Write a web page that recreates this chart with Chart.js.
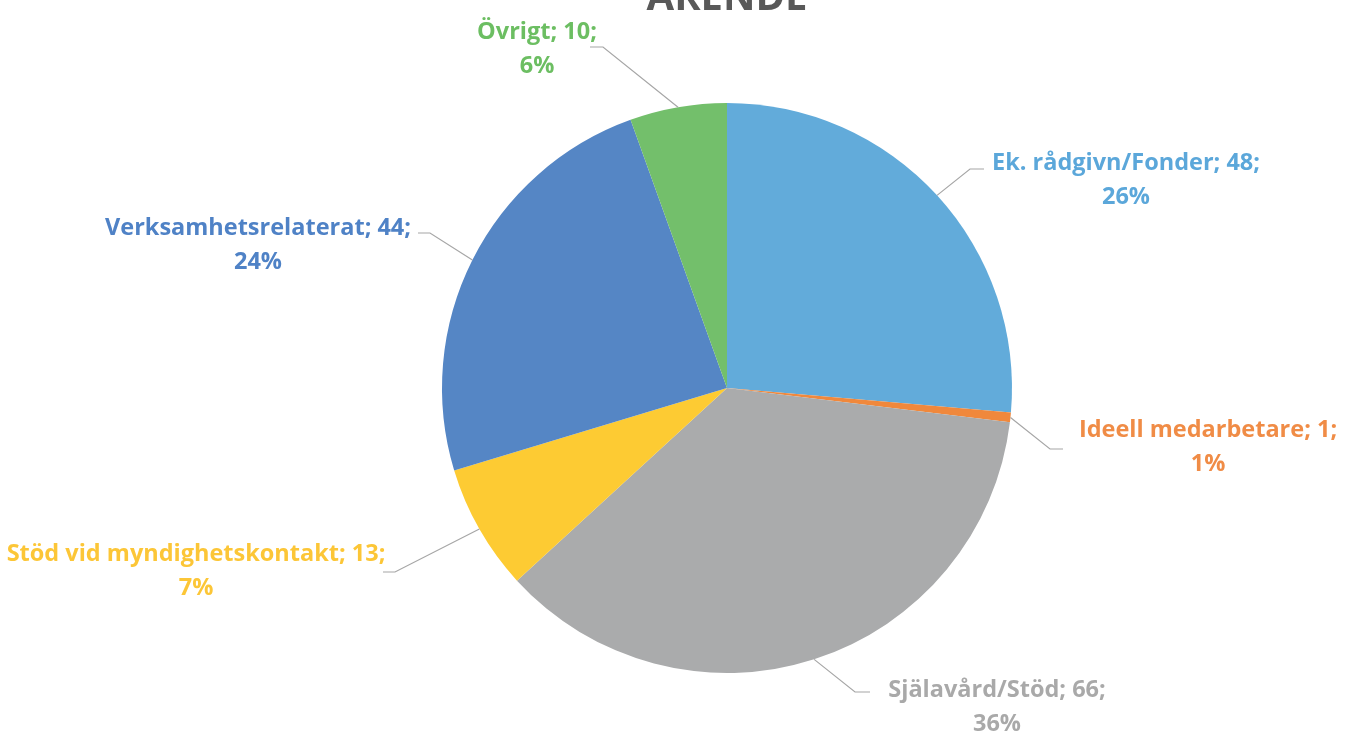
<!DOCTYPE html>
<html>
<head>
<meta charset="utf-8">
<script src="https://cdn.jsdelivr.net/npm/chart.js@4"></script>
<style>
html,body{margin:0;padding:0;background:#ffffff;}
#wrap{width:1347px;height:736px;position:relative;}
</style>
</head>
<body>
<div id="wrap"><canvas id="c" width="1347" height="736"></canvas></div>
<script>
// ---- data ----
const titleText = 'ÄRENDE';
const categories = ['Ek. rådgivn/Fonder', 'Ideell medarbetare', 'Själavård/Stöd', 'Stöd vid myndighetskontakt', 'Verksamhetsrelaterat', 'Övrigt'];
const values = [48, 1, 66, 13, 44, 10];
const percentLabels = ['26%', '1%', '36%', '7%', '24%', '6%'];

// ---- styles ----
const colors = ['#62ABDA', '#F0883C', '#AAABAC', '#FDCB33', '#5586C5', '#73BF6B'];
const labelColors = ['#5BA7DA', '#F08C46', '#A9A9A9', '#FCC637', '#4F82C6', '#6CBE62'];
// label layout: [textCenterX, firstLineY, elbowX, elbowY, endX]
const labelLayout = [
  [1126, 163, 970, 169, 984],
  [1208, 430, 1050, 449, 1063],
  [997, 690, 855, 692, 870],
  [196, 554, 395, 572, 383],
  [258, 228, 430, 233, 418],
  [537, 32, 603, 47, 590]
];

const labelPlugin = {
  id: 'labels',
  afterDraw(chart) {
    const ctx = chart.ctx;
    const meta = chart.getDatasetMeta(0);
    const arc0 = meta.data[0];
    ctx.save();
    // title (cut off at top as in the reference)
    ctx.font = 'bold 40px "Open Sans"';
    ctx.fillStyle = '#595959';
    ctx.textAlign = 'center';
    ctx.textBaseline = 'alphabetic';
    ctx.fillText(titleText, arc0.x, 10);

    meta.data.forEach((arc, i) => {
      const mid = (arc.startAngle + arc.endAngle) / 2;
      const sx = arc.x + Math.cos(mid) * arc.outerRadius;
      const sy = arc.y + Math.sin(mid) * arc.outerRadius;
      const L = labelLayout[i];
      ctx.strokeStyle = '#A6A6A6';
      ctx.lineWidth = 1.2;
      ctx.beginPath();
      ctx.moveTo(sx, sy);
      ctx.lineTo(L[2], L[3]);
      ctx.lineTo(L[4], L[3]);
      ctx.stroke();

      ctx.font = 'bold 23.5px "Open Sans"';
      ctx.fillStyle = labelColors[i];
      ctx.textAlign = 'center';
      ctx.textBaseline = 'middle';
      ctx.fillText(categories[i] + '; ' + values[i] + ';', L[0], L[1]);
      ctx.fillText(percentLabels[i], L[0], L[1] + 34);
    });
    ctx.restore();
  }
};

new Chart(document.getElementById('c'), {
  type: 'pie',
  data: {
    labels: categories,
    datasets: [{
      data: values,
      backgroundColor: colors,
      borderWidth: 0
    }]
  },
  options: {
    responsive: false,
    animation: false,
    layout: { padding: { top: 103, bottom: 63, left: 200, right: 93 } },
    plugins: {
      legend: { display: false },
      tooltip: { enabled: false },
      title: { display: false }
    }
  },
  plugins: [labelPlugin]
});
</script>
</body>
</html>
